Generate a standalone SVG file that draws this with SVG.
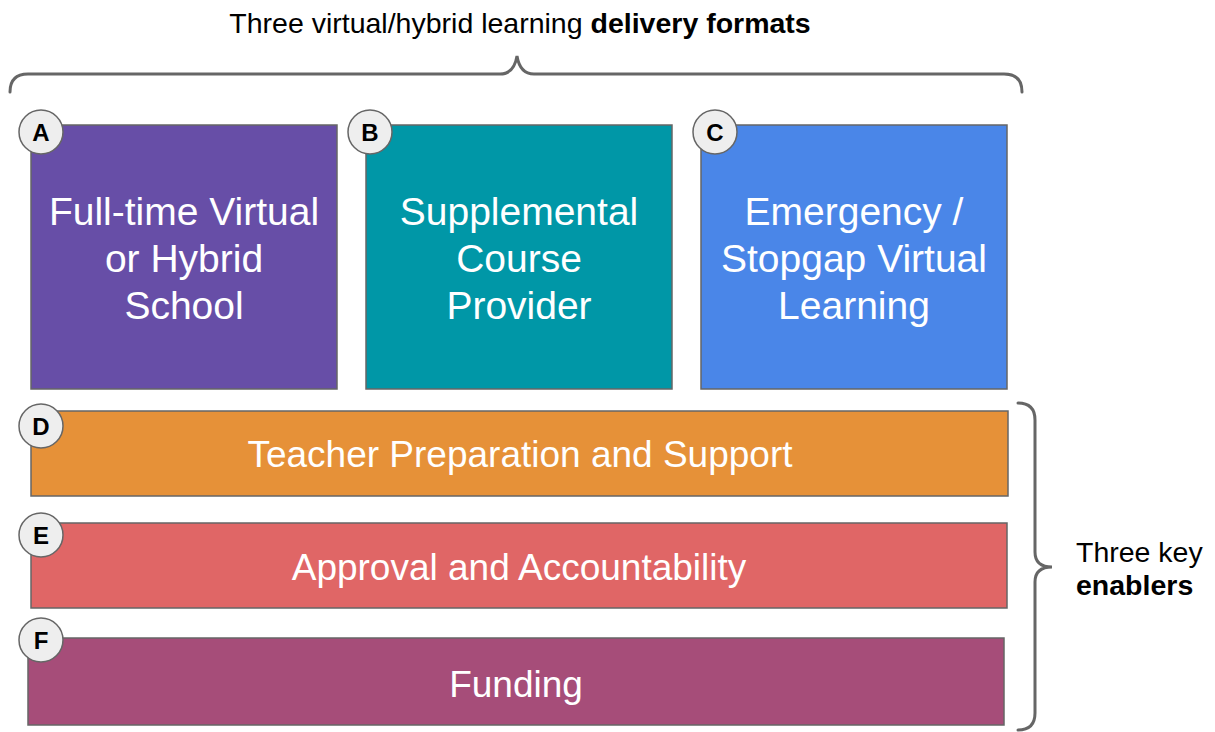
<svg xmlns="http://www.w3.org/2000/svg" width="1215" height="732" viewBox="0 0 1215 732">
<style>
.box{stroke:#666;stroke-width:1.5}
.lbl{fill:#fff;font-family:"Liberation Sans",Arial,sans-serif;font-size:39px;text-anchor:middle}
.bar{font-size:37px}
.badge circle{fill:#eeeeee;stroke:#666;stroke-width:1.5}
.badge text{fill:#000;font-family:"Liberation Sans",Arial,sans-serif;font-size:24px;font-weight:bold;text-anchor:middle}
.cap{fill:#000;font-family:"Liberation Sans",Arial,sans-serif;font-size:28.5px}
.brace{fill:none;stroke:#666;stroke-width:3;stroke-linecap:round}
</style>
<rect width="1215" height="732" fill="#fff"/>
<g id="title">
<text class="cap" x="520" y="33" text-anchor="middle">Three virtual/hybrid learning <tspan font-weight="bold">delivery formats</tspan></text>
</g>
<g id="connectors">
<path class="brace" d="M10,92 Q10,74 28,74 L500,74 Q514,74 517,56 Q520,74 534,74 L1004,74 Q1022,74 1022,92"/>
<path class="brace" d="M1018,403 Q1035,403 1035,420 L1035,552 Q1035,567 1052,567 Q1035,567 1035,582 L1035,713 Q1035,730 1018,730"/>
</g>
<g id="nodeA">
<rect class="box" x="31" y="125" width="306" height="264" fill="#674ea7"/>
<text class="lbl" x="184" y="225">Full-time Virtual</text>
<text class="lbl" x="184" y="272">or Hybrid</text>
<text class="lbl" x="184" y="319">School</text>
<g class="badge"><circle cx="41" cy="132" r="22"/><text x="41" y="141">A</text></g>
</g>
<g id="nodeB">
<rect class="box" x="366" y="125" width="306" height="264" fill="#0097a7"/>
<text class="lbl" x="519" y="225">Supplemental</text>
<text class="lbl" x="519" y="272">Course</text>
<text class="lbl" x="519" y="319">Provider</text>
<g class="badge"><circle cx="370" cy="132" r="22"/><text x="370" y="141">B</text></g>
</g>
<g id="nodeC">
<rect class="box" x="701" y="125" width="306" height="264" fill="#4a86e8"/>
<text class="lbl" x="854" y="225">Emergency /</text>
<text class="lbl" x="854" y="272">Stopgap Virtual</text>
<text class="lbl" x="854" y="319">Learning</text>
<g class="badge"><circle cx="715" cy="132" r="22"/><text x="715" y="141">C</text></g>
</g>
<g id="nodeD">
<rect class="box" x="31" y="411" width="977" height="85" fill="#e69138"/>
<text class="lbl bar" x="520" y="467">Teacher Preparation and Support</text>
<g class="badge"><circle cx="41" cy="426" r="22"/><text x="41" y="435">D</text></g>
</g>
<g id="nodeE">
<rect class="box" x="31" y="523" width="976" height="85" fill="#e06666"/>
<text class="lbl bar" x="519" y="580">Approval and Accountability</text>
<g class="badge"><circle cx="41" cy="535" r="22"/><text x="41" y="544">E</text></g>
</g>
<g id="nodeF">
<rect class="box" x="28" y="638" width="976" height="87" fill="#a64d79"/>
<text class="lbl bar" x="516" y="697">Funding</text>
<g class="badge"><circle cx="41" cy="640" r="22"/><text x="41" y="649">F</text></g>
</g>
<g id="enablers">
<text class="cap" x="1076" y="562">Three key</text>
<text class="cap" x="1076" y="595" font-weight="bold">enablers</text>
</g>
</svg>
